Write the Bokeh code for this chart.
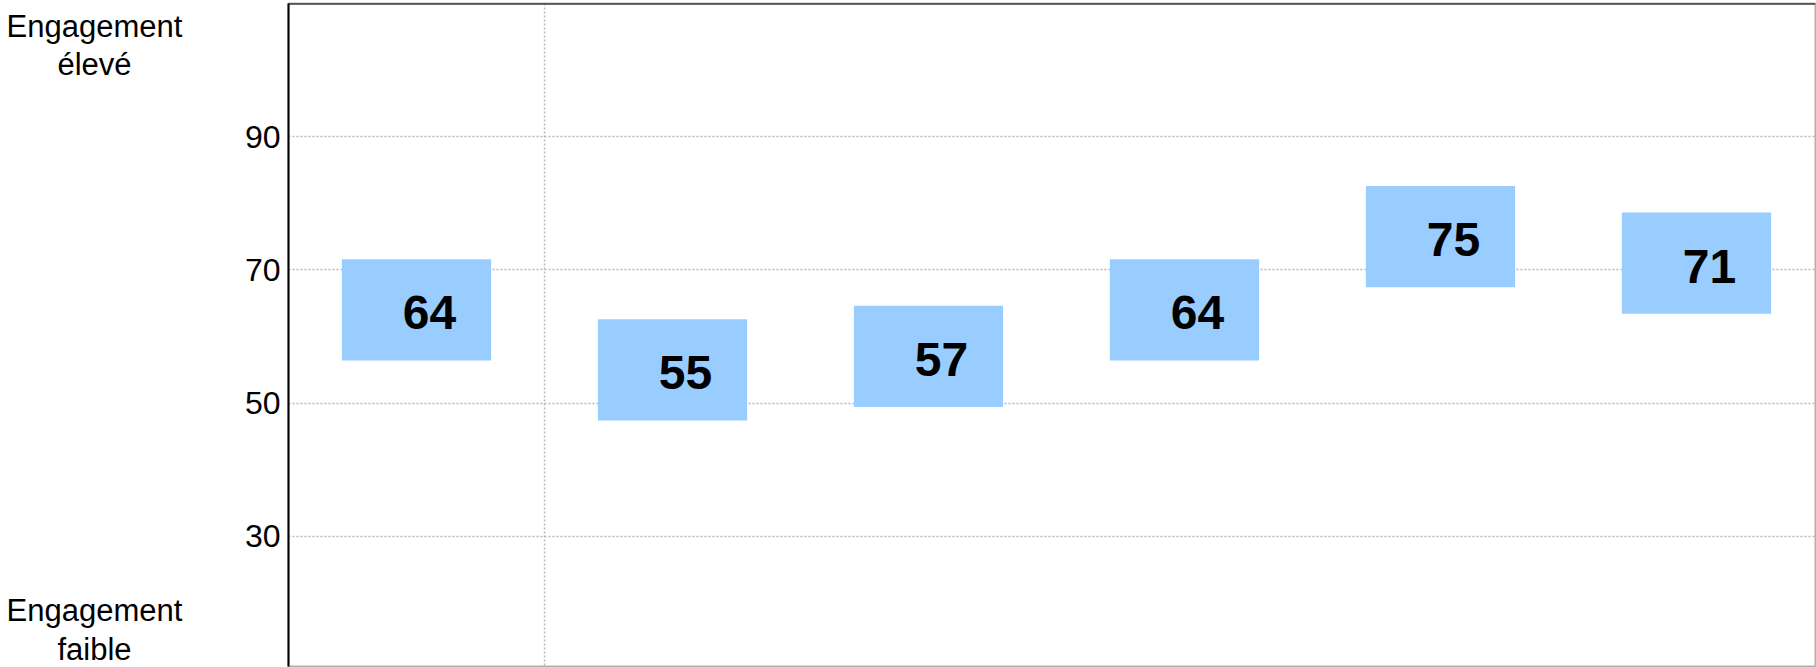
from bokeh.plotting import figure
from bokeh.layouts import row
from bokeh.models import Range1d, FixedTicker, Span
from bokeh.core.properties import value
from bokeh.embed import file_html
from bokeh.resources import INLINE

# ---- data ----
slots = [0, 1, 2, 3, 4, 5]
scores = [64, 55, 57, 64, 75, 71]
score_labels = [str(v) for v in scores]
y_ticks = [30, 50, 70, 90]
side_labels = ["Engagement", "élevé", "Engagement", "faible"]

FONT = value("Liberation Sans")
H = 667

# ---- left panel with the scale-end labels (pixel coordinates, y down) ----
LEFT_W = 200
side = figure(width=LEFT_W, height=H, output_backend="svg", toolbar_location=None,
              x_range=Range1d(0, LEFT_W), y_range=Range1d(H, 0),
              x_axis_location=None, y_axis_location=None,
              min_border_left=0, min_border_right=0, min_border_top=0, min_border_bottom=0)
side.outline_line_color = None
side.xgrid.visible = False
side.ygrid.visible = False
side_label_y = [23, 61, 611, 650]
side.text(x=[94] * len(side_labels), y=side_label_y, text=side_labels,
          text_align="center", text_baseline="alphabetic", text_font=FONT,
          text_font_size="31px", text_color="black")

# ---- main chart ----
p = figure(width=1816 - LEFT_W, height=H, output_backend="svg", toolbar_location=None,
           x_range=Range1d(-0.5, 5.465), y_range=Range1d(10.45, 110),
           x_axis_location=None,
           min_border_left=288 - LEFT_W, min_border_right=1, min_border_top=3, min_border_bottom=1)

p.background_fill_color = "white"
p.border_fill_color = "white"
p.outline_line_color = "#b0b0b0"
p.outline_line_width = 2
p.xgrid.visible = False

yax = p.yaxis[0]
yax.ticker = FixedTicker(ticks=y_ticks)
yax.major_tick_line_color = None
yax.minor_tick_line_color = None
yax.major_tick_out = 0
yax.major_tick_in = 0
yax.major_label_standoff = 8
yax.axis_line_color = "black"
yax.axis_line_width = 2
yax.major_label_text_font = "Liberation Sans"
yax.major_label_text_font_size = "32px"
yax.major_label_text_color = "black"

p.ygrid.grid_line_color = "#b8b8b8"
p.ygrid.grid_line_dash = "2 2"
p.ygrid.grid_line_width = 1.5

# vertical separator after the first column
p.add_layout(Span(location=0.5, dimension="height", line_color="#b8b8b8",
                  line_dash="2 2", line_width=1.5))
# top border
p.add_layout(Span(location=110, dimension="width", line_color="black", line_width=2))

p.rect(x=slots, y=scores, width=0.583, height=15.2,
       fill_color="#99ccff", line_color=None)

p.text(x=slots, y=scores, text=score_labels, x_offset=13, y_offset=3,
       text_align="center", text_baseline="middle", text_font=FONT,
       text_font_style="bold", text_font_size="48px", text_color="black")

layout = row(side, p, spacing=0)
open("out.html", "w").write(file_html(layout, INLINE))
